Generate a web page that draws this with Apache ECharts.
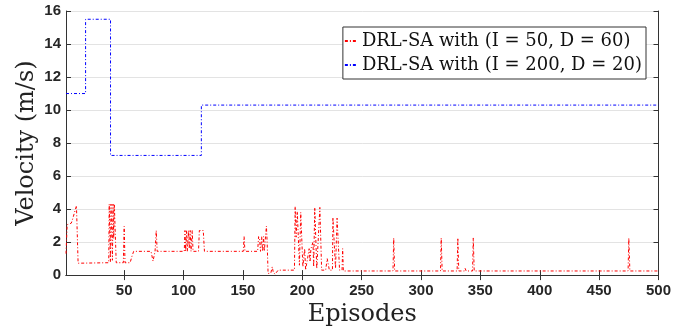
<!DOCTYPE html>
<html>
<head>
<meta charset="utf-8">
<script src="https://cdn.jsdelivr.net/npm/echarts@6/dist/echarts.min.js"></script>
<style>
  html, body { margin: 0; padding: 0; background: #fff; }
  #chart { width: 674px; height: 332px; }
</style>
</head>
<body>
<div id="chart"></div>
<script>
// episode ticks
const xTicks = [50, 100, 150, 200, 250, 300, 350, 400, 450, 500];

// DRL-SA (I = 200, D = 20) - piecewise constant
const blueEp  = [1, 17.5, 17.5, 38.5, 38.5, 115, 115, 500];
const blueVel = [11.0, 11.0, 15.5, 15.5, 7.25, 7.25, 10.3, 10.3];

// DRL-SA (I = 50, D = 60) - breakpoints
const redEp = [
  1, 2, 5.5, 7, 8.5, 9.8, 10.5, 11.2,
  37, 37.4, 38, 38.4, 38.9, 39.6, 40.1, 40.6, 41.2, 41.7, 42.7, 43.3,
  49.3, 50, 50.7, 55, 56, 56.8, 58,
  72.6, 74.3, 76, 77, 77.8,
  100.6, 101.2, 101.8, 102.6, 103.2, 104.2, 104.8, 105.6, 106.3, 107.3, 108,
  112.6, 113.3, 116.6, 117.6,
  150.3, 151, 151.7,
  162.4, 163.2, 164, 164.8, 165.8, 166.6, 167.4, 168, 169.2, 169.8, 170.4, 171.2,
  173.5, 174.7, 175.5, 177, 178.5, 179.7,
  193.4, 194, 194.8, 195.8, 196.8, 197.6, 198.7, 199.9, 200.5,
  202, 202.8, 204.4, 205.8, 206.5, 207.3, 208.3, 209, 209.6,
  210.5, 211.6, 212.2, 213.3, 214.8, 215.5, 216.3, 219.7, 221, 222, 222.8,
  225.4, 225.8, 227.3, 228, 229.3, 230.6, 231.4, 233.5, 234, 234.6,
  276.4, 277, 277.8,
  316.4, 317, 317.8,
  330.4, 331, 331.8, 336.5, 337.2, 338,
  343.4, 344, 344.8,
  474.4, 475, 475.9, 500
];
const redVel = [
  1.3, 3.05, 3.15, 3.5, 3.6, 4.2, 4.2, 0.72,
  0.75, 4.3, 4.3, 0.8, 4.3, 4.3, 0.9, 4.3, 2.2, 4.3, 4.3, 0.75,
  0.75, 2.95, 0.75, 0.75, 0.85, 1.2, 1.44,
  1.44, 0.85, 1.44, 2.7, 1.44,
  1.44, 2.7, 1.44, 2.7, 1.44, 2.7, 1.6, 2.7, 1.44, 2.7, 1.44,
  1.44, 2.7, 2.7, 1.44,
  1.44, 2.33, 1.44,
  1.44, 2.33, 2.2, 1.44, 2.33, 1.44, 2.33, 1.44, 1.44, 2.97, 2.0, 0.1,
  0.12, 0.5, 0.2, 0.05, 0.05, 0.3,
  0.3, 4.15, 2.3, 3.85, 3.85, 0.6, 3.8, 3.8, 0.5,
  1.6, 0.3, 0.4, 1.6, 0.8, 1.6, 1.6, 2.0, 0.5,
  4.1, 4.1, 0.4, 0.3, 4.1, 4.1, 0.3, 0.3, 1.0, 1.0, 0.3,
  0.3, 3.5, 3.5, 0.4, 3.45, 3.45, 0.3, 0.3, 1.6, 0.25,
  0.25, 2.25, 0.25,
  0.25, 2.25, 0.25,
  0.25, 2.25, 0.25, 0.25, 0.4, 0.25,
  0.25, 2.25, 0.25,
  0.25, 2.25, 0.25, 0.25
];

const zip = (xs, ys) => xs.map((x, i) => [x, ys[i]]);

const chart = echarts.init(document.getElementById('chart'));

const tickFont = { color: '#262626', fontSize: 15, fontWeight: 'bold', fontFamily: 'Liberation Sans, Arial, sans-serif' };
const axisLine = { lineStyle: { color: '#333', width: 1 } };
const dashDot = [3, 2, 1, 2];

chart.setOption({
  animation: false,
  backgroundColor: '#fff',
  grid: { left: 66, right: 13, top: 11, bottom: 55 },
  legend: {
    orient: 'vertical',
    right: 28,
    top: 27,
    padding: [3, 4, 3, 1],
    itemWidth: 12,
    itemHeight: 10,
    itemGap: 2,
    itemStyle: { opacity: 0 },
    backgroundColor: '#fff',
    borderColor: '#333',
    borderWidth: 1,
    borderRadius: 0,
    textStyle: { fontFamily: 'DejaVu Serif', fontSize: 18, color: '#111', lineHeight: 22 }
  },
  xAxis: [
    {
      type: 'value', min: 1, max: 500,
      name: 'Episodes', nameLocation: 'middle', nameGap: 27,
      nameTextStyle: { fontFamily: 'DejaVu Serif', fontSize: 24, color: '#222' },
      axisLine: axisLine,
      axisTick: { inside: true, length: 5, customValues: xTicks, lineStyle: { color: '#333' } },
      axisLabel: Object.assign({ margin: 8, customValues: xTicks }, tickFont),
      splitLine: { show: false }
    },
    {
      type: 'value', min: 1, max: 500, position: 'top',
      axisLine: axisLine,
      axisTick: { inside: true, length: 5, customValues: xTicks, lineStyle: { color: '#333' } },
      axisLabel: { show: false },
      splitLine: { show: false }
    }
  ],
  yAxis: [
    {
      type: 'value', min: 0, max: 16, interval: 2,
      name: 'Velocity (m/s)', nameLocation: 'middle', nameGap: 27, nameMoveOverlap: false,
      nameTextStyle: { fontFamily: 'DejaVu Serif', fontSize: 24, color: '#222' },
      axisLine: { show: true, lineStyle: { color: '#333', width: 1 } },
      axisTick: { show: true, inside: true, length: 5, lineStyle: { color: '#333' } },
      axisLabel: Object.assign({ margin: 5 }, tickFont),
      splitLine: { show: true, lineStyle: { color: '#e3e3e3', width: 1 } }
    },
    {
      type: 'value', min: 0, max: 16, interval: 2, position: 'right',
      axisLine: { show: true, lineStyle: { color: '#333', width: 1 } },
      axisTick: { show: true, inside: true, length: 5, lineStyle: { color: '#333' } },
      axisLabel: { show: false },
      splitLine: { show: false }
    }
  ],
  series: [
    {
      name: 'DRL-SA with (I = 50, D = 60)',
      type: 'line',
      data: zip(redEp, redVel),
      symbol: 'none',
      lineStyle: { color: '#ff0000', width: 1, type: dashDot },
      itemStyle: { color: '#ff0000' }
    },
    {
      name: 'DRL-SA with (I = 200, D = 20)',
      type: 'line',
      data: zip(blueEp, blueVel),
      symbol: 'none',
      lineStyle: { color: '#0000ff', width: 1, type: dashDot },
      itemStyle: { color: '#0000ff' }
    }
  ]
});
</script>
</body>
</html>
